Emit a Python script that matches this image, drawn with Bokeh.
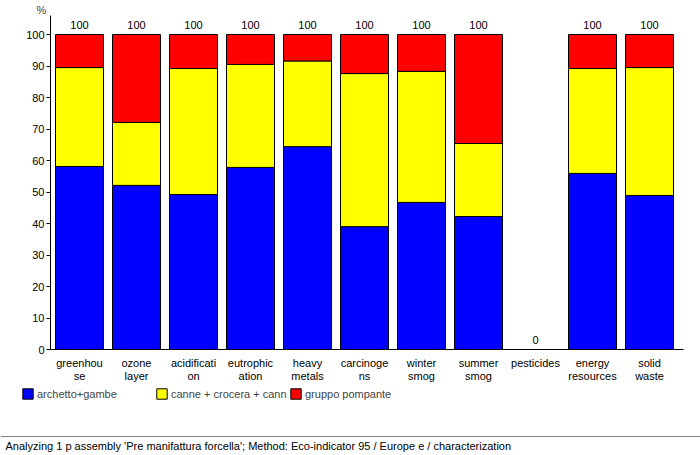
from bokeh.plotting import figure
from bokeh.models import (ColumnDataSource, FixedTicker, Legend, LegendItem, Label, Span)
from bokeh.embed import file_html
from bokeh.resources import INLINE
from bokeh.core.properties import value

categories = ["greenhou\nse", "ozone\nlayer", "acidificati\non", "eutrophic\nation", "heavy\nmetals",
              "carcinoge\nns", "winter\nsmog", "summer\nsmog", "pesticides", "energy\nresources", "solid\nwaste"]
series_names = ["archetto+gambe", "canne + crocera + cann", "gruppo pompante"]
archetto = [58.1, 52.1, 49.2, 57.8, 64.4, 39.0, 46.7, 42.2, 0.0, 55.9, 48.9]
canne = [31.4, 20.0, 40.0, 32.7, 27.2, 48.6, 41.6, 23.2, 0.0, 33.3, 40.6]
gruppo = [10.5, 27.9, 10.8, 9.5, 8.4, 12.4, 11.7, 34.6, 0.0, 10.8, 10.5]
totals = [100, 100, 100, 100, 100, 100, 100, 100, 0, 100, 100]
yticks = list(range(0, 101, 10))
footer_text = "Analyzing 1 p assembly 'Pre manifattura forcella';  Method: Eco-indicator 95 /  Europe e / characterization"

colors = ["#0000FF", "#FFFF00", "#FF0000"]
FONT = "Liberation Sans"
FS = "11px"

W, H = 700, 455
# pixel geometry of the plotting area (layout only)
PX_CAT0, PX_PITCH = 79.0, 57.0          # x centre of first category, spacing
PX_Y0, PX_PER_UNIT = 349.0, 3.15        # pixel row of value 0, pixels per percent
PX_AX_LEFT, PX_AX_RIGHT, PX_AX_TOP = 50.0, 683.0, 15.0

def xd(px):
    return (px - PX_CAT0) / PX_PITCH

def yd(py):
    return (PX_Y0 - py) / PX_PER_UNIT

xs = list(range(len(categories)))
src = ColumnDataSource(dict(x=xs, a=archetto, c=canne, g=gruppo,
                            tot=totals, lab=[str(t) for t in totals]))

p = figure(width=W, height=H, x_range=(xd(0), xd(W)), y_range=(yd(H), yd(0)),
           output_backend="svg", toolbar_location=None,
           min_border_left=0, min_border_right=0, min_border_top=0, min_border_bottom=0)
p.outline_line_color = None
p.xgrid.visible = False
p.ygrid.visible = False
p.background_fill_color = "white"
p.border_fill_color = "white"

rs = p.vbar_stack(["a", "c", "g"], x="x", width=48 / PX_PITCH, source=src,
                  fill_color=colors, line_color="black", line_width=1)

p.text(x="x", y="tot", text="lab", source=src, text_align="center", text_baseline="bottom",
       y_offset=-6, text_font=value(FONT), text_font_size=FS, text_color="black")

# axes at fixed locations
p.yaxis.fixed_location = xd(PX_AX_LEFT)
p.yaxis.bounds = (0, yd(PX_AX_TOP))
p.yaxis.ticker = FixedTicker(ticks=yticks)
p.yaxis.major_label_text_font = FONT
p.yaxis.major_label_text_font_size = FS
p.yaxis.major_label_text_color = "black"
p.yaxis.major_tick_out = 4
p.yaxis.major_tick_in = 0
p.yaxis.minor_tick_line_color = None
p.yaxis.axis_line_color = "black"
p.yaxis.major_tick_line_color = "black"
p.yaxis.major_label_standoff = 2

p.xaxis.fixed_location = 0
p.xaxis.bounds = (xd(PX_AX_LEFT), xd(PX_AX_RIGHT))
p.xaxis.ticker = FixedTicker(ticks=xs)
p.xaxis.major_label_overrides = {i: c for i, c in enumerate(categories)}
p.xaxis.major_label_text_font = FONT
p.xaxis.major_label_text_font_size = FS
p.xaxis.major_label_text_color = "black"
p.xaxis.major_label_text_line_height = 1.1
p.xaxis.major_tick_line_color = None
p.xaxis.minor_tick_line_color = None
p.xaxis.axis_line_color = "black"
p.xaxis.major_label_standoff = 1

p.add_layout(Label(x=xd(PX_AX_LEFT), y=yd(PX_AX_TOP), x_offset=-14, y_offset=0, text="%",
                   text_font=FONT, text_font_size=FS, text_baseline="bottom"))

legend = Legend(items=[LegendItem(label=n, renderers=[r]) for n, r in zip(series_names, rs)],
                orientation="horizontal", location=(21, 455 - 400),
                glyph_width=13, glyph_height=13, label_standoff=3, label_width=118,
                spacing=0, padding=0, margin=0, border_line_color=None,
                background_fill_alpha=0, label_text_font=FONT, label_text_font_size=FS,
                label_height=13)
p.add_layout(legend, "center")

p.add_layout(Span(location=yd(436), dimension="width", line_color="#808080", line_width=1))
p.add_layout(Label(x=xd(5), y=yd(445), text=footer_text, text_baseline="middle",
                   text_font=FONT, text_font_size=FS, text_color="black"))

open("out.html", "w").write(file_html(p, INLINE))
